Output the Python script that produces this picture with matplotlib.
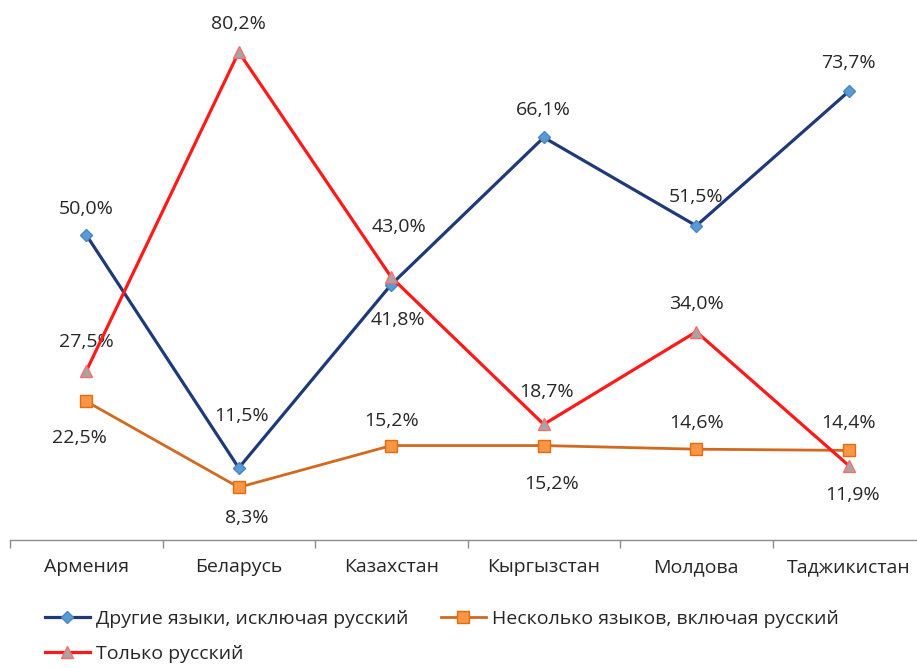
import matplotlib.pyplot as plt

plt.rcParams['font.family'] = ['Open Sans', 'DejaVu Sans']

# страны и доли (%)
strany = ['Армения', 'Беларусь', 'Казахстан', 'Кыргызстан', 'Молдова', 'Таджикистан']
drugie = [50.0, 11.5, 41.8, 66.1, 51.5, 73.7]
neskolko = [22.5, 8.3, 15.2, 15.2, 14.6, 14.4]
tolko_russkiy = [27.5, 80.2, 43.0, 18.7, 34.0, 11.9]

nazvaniya = ['Другие языки, исключая русский',
             'Несколько языков, включая русский',
             'Только русский']

# сдвиг подписей (пиксели): (dx, dy), dy > 0 — вверх
sdvig_drugie = [(0, 26), (3, 52), (7, -35), (0, 27), (0, 29), (0, 28)]
sdvig_neskolko = [(-7, -37), (8, -31), (0, 25), (8, -38), (0, 26), (0, 27)]
sdvig_tolko = [(0, 29), (0, 28), (8, 50), (3, 32), (0, 28), (4, -29)]

tekst = '#262626'
razmer = 14

fig = plt.figure(figsize=(9.17, 6.68), dpi=100)
ax = fig.add_axes([10 / 917, 1 - 540 / 668, 915 / 917, 540 / 668])

x = range(len(strany))

l1, = ax.plot(x, drugie, color='#1F3A78', lw=2.3, marker='D', markersize=6.5,
              markerfacecolor='#5B9BD5', markeredgecolor='#4A86C5', zorder=3)
l2, = ax.plot(x, neskolko, color='#D2691E', lw=2.0, marker='s', markersize=8,
              markerfacecolor='#F79646', markeredgecolor='#E46C0A', zorder=3)
l3, = ax.plot(x, tolko_russkiy, color='#FF1A1A', lw=2.3, marker='^', markersize=9,
              markerfacecolor='#A6A6A6', markeredgecolor='#FF6B6B', zorder=4)

def podpisi(znacheniya, sdvigi):
    for i, (v, (dx, dy)) in enumerate(zip(znacheniya, sdvigi)):
        ax.annotate(f'{v:.1f}%'.replace('.', ','), (i, v), xytext=(dx, dy),
                    textcoords='offset pixels', ha='center', va='center',
                    fontsize=razmer, color=tekst)

podpisi(drugie, sdvig_drugie)
podpisi(neskolko, sdvig_neskolko)
podpisi(tolko_russkiy, sdvig_tolko)

ax.set_xlim(-0.5, len(strany) - 0.5)
ax.set_ylim(-0.4, 88.8)

for s in ['top', 'right', 'left']:
    ax.spines[s].set_visible(False)
ax.spines['bottom'].set_color('#8C8C8C')
ax.spines['bottom'].set_linewidth(1.0)
ax.set_yticks([])

# метки стран по центру, штрихи — на границах категорий
ax.set_xticks(list(x))
ax.set_xticklabels(strany, fontsize=razmer, color=tekst)
ax.tick_params(axis='x', which='major', length=0, pad=13)
ax.set_xticks([i - 0.5 for i in range(len(strany) + 1)], minor=True)
ax.tick_params(axis='x', which='minor', length=6, color='#8C8C8C', width=1.0)

# легенда заполняется по столбцам: первая строка — две серии, вторая — одна
leg = fig.legend([l1, l3, l2], [nazvaniya[0], nazvaniya[2], nazvaniya[1]],
                 loc='upper left', bbox_to_anchor=(45 / 917, 1 - 610 / 668),
                 ncol=2, frameon=False, fontsize=razmer, handlelength=2.3,
                 handletextpad=0.3, columnspacing=1.7, labelspacing=0.85,
                 borderaxespad=0, borderpad=0)
for t in leg.get_texts():
    t.set_color(tekst)

fig.savefig('out.png', dpi=100)
